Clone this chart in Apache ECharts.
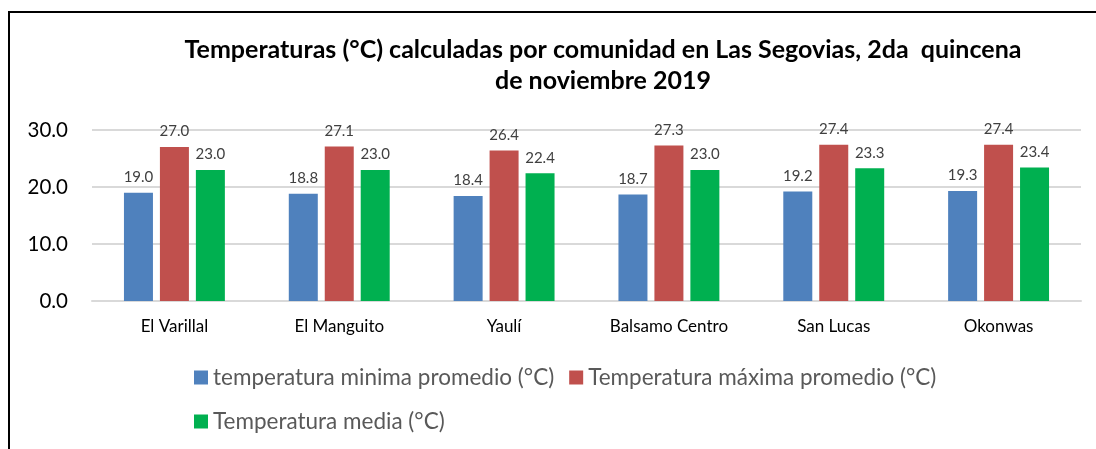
<!DOCTYPE html>
<html><head><meta charset="utf-8">
<script src="https://cdn.jsdelivr.net/npm/echarts@6/dist/echarts.min.js"></script>
<style>html,body{margin:0;padding:0;background:#fff}#c{width:1096px;height:449px}</style>
</head><body><div id="c"></div>
<script>
const categories = ["El Varillal", "El Manguito", "Yaulí", "Balsamo Centro", "San Lucas", "Okonwas"];
const seriesNames = ["temperatura minima promedio (°C)", "Temperatura máxima promedio (°C)", "Temperatura media (°C)"];
const minTemp = [19.0, 18.8, 18.4, 18.7, 19.2, 19.3];
const maxTemp = [27.0, 27.1, 26.4, 27.3, 27.4, 27.4];
const meanTemp = [23.0, 23.0, 22.4, 23.0, 23.3, 23.4];
const colors = ["#4f81bd", "#c0504d", "#00b050"];
const titleLines = "Temperaturas (°C) calculadas por comunidad en Las Segovias, 2da  quincena\nde noviembre 2019";

const font = "Lato, 'Open Sans', sans-serif";
const chart = echarts.init(document.getElementById('c'), null, {renderer: 'canvas'});
const mk = (i, data) => ({
  name: seriesNames[i], type: 'bar', data: data, barWidth: 29,
  barGap: '24%', barCategoryGap: '39%',
  itemStyle: {color: colors[i]},
  label: {show: true, position: 'top', distance: 8, color: '#404040', fontSize: 15, fontFamily: font,
    formatter: p => p.value.toFixed(1)}
});
chart.setOption({
  animation: false,
  title: {text: titleLines, left: 598, textAlign: 'center', top: 29,
    textStyle: {fontSize: 25, fontWeight: 'bold', color: '#000', fontFamily: font, lineHeight: 31}},
  grid: {left: 92, right: 15, top: 130, bottom: 148},
  xAxis: {type: 'category', data: categories,
    axisLine: {lineStyle: {color: '#d9d9d9', width: 2}}, axisTick: {show: false},
    axisLabel: {color: '#000', fontSize: 17, fontFamily: font, margin: 17}},
  yAxis: {type: 'value', min: 0, max: 30, interval: 10,
    axisLine: {show: false}, axisTick: {show: false},
    splitLine: {lineStyle: {color: '#d9d9d9', width: 2}},
    axisLabel: {color: '#000', fontSize: 20.5, fontFamily: font, margin: 24, formatter: v => v.toFixed(1)}},
  legend: [
    {data: [seriesNames[0], seriesNames[1]], left: 189, top: 361, itemWidth: 14, itemHeight: 14, itemGap: 15,
      icon: 'rect', textStyle: {color: '#595959', fontSize: 22.5, fontFamily: font}},
    {data: [seriesNames[2]], left: 189, top: 405, itemWidth: 14, itemHeight: 14,
      icon: 'rect', textStyle: {color: '#595959', fontSize: 22.5, fontFamily: font}}
  ],
  graphic: [
    {type: 'line', shape: {x1: 9, y1: 12, x2: 9, y2: 449}, style: {stroke: '#000', lineWidth: 2}},
    {type: 'line', shape: {x1: 8, y1: 12, x2: 1096, y2: 12}, style: {stroke: '#000', lineWidth: 2}}
  ],
  series: [mk(0, minTemp), mk(1, maxTemp), mk(2, meanTemp)]
});
</script></body></html>
